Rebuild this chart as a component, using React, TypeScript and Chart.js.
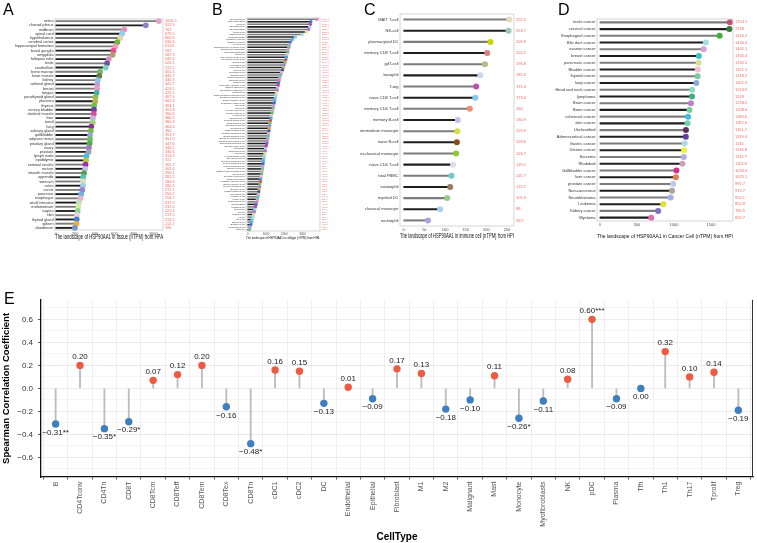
import React, { useEffect, useRef } from "react";
import { Chart, registerables } from "chart.js";

Chart.register(...registerables);

const FAMILY = "'Liberation Sans', Arial, Helvetica, sans-serif";
Chart.defaults.font.family = FAMILY;

// ---------- A: tissue expression (nTPM) ----------
const tissueNames = [
  "retina", "choroid plexus", "midbrain", "spinal cord", "hypothalamus", "cerebral cortex",
  "hippocampal formation", "basal ganglia", "amygdala", "fallopian tube", "testis", "cerebellum",
  "bone marrow", "heart muscle", "kidney", "adrenal gland", "breast", "tongue", "parathyroid gland",
  "placenta", "thymus", "urinary bladder", "skeletal muscle", "liver", "tonsil", "lung",
  "salivary gland", "gallbladder", "adipose tissue", "pituitary gland", "ovary", "prostate",
  "lymph node", "epididymis", "seminal vesicle", "rectum", "smooth muscle", "appendix", "stomach",
  "colon", "cervix", "pancreas", "esophagus", "small intestine", "endometrium", "vagina", "skin",
  "thyroid gland", "spleen", "duodenum",
];
const tissueValues = [
  1056.5, 922.9, 702.0, 679.5, 660.6, 630.6, 611.6, 592.0, 582.9, 542.4, 526.1, 512.5,
  455.5, 445.7, 430.6, 425.7, 424.5, 419.5, 407.9, 405.3, 394.1, 391.8, 390.6, 380.5,
  380.4, 364.4, 360.0, 351.9, 351.5, 347.6, 340.5, 336.6, 314.6, 311.0, 305.7, 301.4,
  290.1, 281.2, 280.6, 280.3, 272.1, 260.7, 254.7, 237.5, 232.6, 225.4, 217.5, 215.5,
  212.2, 196.0,
];
const tissueTicks = [0, 200, 400, 600, 800, 1000];
const tissueColors = [
  "#E8A0CC", "#9080C8", "#E890C0", "#90D0F0", "#E0D8A0", "#70B040", "#F0A0B0", "#F05090",
  "#B0A070", "#D090C0", "#7050A0", "#80D0C0", "#70C070", "#6A7A40", "#80C8F0", "#C0A0D0",
  "#E0A0C0", "#40B0B0", "#90C050", "#C0B050", "#70C050", "#7040A0", "#D050A0", "#C0B0E0",
  "#A0D080", "#9030A0", "#70C040", "#A0A0E0", "#70C060", "#50B050", "#A080C0", "#A0A0C0",
  "#40C0E0", "#C0C040", "#A030A0", "#C0C0F0", "#50A050", "#60C0B0", "#E0E0C0", "#A0D0F0",
  "#A080D0", "#70B0E0", "#F0B0D0", "#C0E0C0", "#D0F0A0", "#90D090", "#F0D0E0", "#4080D0",
  "#F0B040", "#7090D0",
];

// ---------- B: single cell type expression (nTPM) ----------
const cellTypeNames = [
  "Spermatocytes", "Early spermatids", "Oocytes", "Spermatogonia", "Late spermatids",
  "Sertoli cells", "Granulosa cells", "Cytotrophoblasts", "Excitatory neurons",
  "Inhibitory neurons", "Leydig cells", "Oligodendrocyte precursor cells",
  "Extravillous trophoblasts", "Syncytiotrophoblasts", "Astrocytes", "Cone photoreceptor cells",
  "Rod photoreceptor cells", "Bipolar cells", "Horizontal cells", "Muller glia cells",
  "Theca cells", "Peritubular cells", "Schwann cells", "Oligodendrocytes", "Cardiomyocytes",
  "Ductal cells", "Pancreatic endocrine cells", "Basal keratinocytes", "Suprabasal keratinocytes",
  "Melanocytes", "Basal squamous epithelial cells", "Squamous epithelial cells",
  "Basal respiratory cells", "Respiratory ciliated cells", "Club cells", "Ionocytes",
  "Alveolar cells type 1", "Alveolar cells type 2", "Hepatocytes", "Cholangiocytes",
  "Proximal tubular cells", "Distal tubular cells", "Collecting duct cells", "Urothelial cells",
  "Basal prostatic cells", "Prostatic glandular cells", "Breast glandular cells",
  "Breast myoepithelial cells", "Glandular and luminal cells", "Endometrial stromal cells",
  "Smooth muscle cells", "Fibroblasts", "Endothelial cells", "Adipocytes",
  "Hepatic stellate cells", "Skeletal myocytes", "Exocrine glandular cells",
  "Serous glandular cells", "Mucus glandular cells", "Salivary duct cells",
  "Gastric mucus-secreting cells", "Paneth cells", "Proximal enterocytes", "Distal enterocytes",
  "Intestinal endocrine cells", "Enteroendocrine cells", "Thymic epithelial cells",
  "Secretory cells", "Undifferentiated cells", "Microglial cells", "Hofbauer cells",
  "Kupffer cells", "Langerhans cells", "Macrophages", "dendritic cells", "monocytes", "B-cells",
  "Plasma cells", "T-cells", "NK-cells", "granulocytes", "Erythroid cells", "Mesothelial cells",
  "Platelets",
];
const cellTypeValues = [
  3780.4, 3450.2, 3420.7, 3380.1, 3330.6, 3200.3, 2970.8, 2600.5,
  2440.2, 2330.9, 2290.4, 2250.1, 2210.6, 2180.3, 2150.7, 2110.2,
  2080.5, 2040.1, 1990.8, 1950.4, 1900.2, 1850.6, 1800.3, 1760.9,
  1720.4, 1690.2, 1660.7, 1630.1, 1600.5, 1570.3, 1540.8, 1510.2,
  1480.6, 1450.4, 1420.1, 1390.7, 1360.3, 1330.5, 1300.2, 1270.8,
  1240.3, 1220.6, 1200.1, 1180.4, 1160.9, 1140.2, 1120.5, 1100.7,
  1070.3, 1040.8, 1010.2, 980.6, 960.1, 940.5, 910.3, 880.7,
  860.2, 840.4, 820.9, 800.1, 780.6, 760.3, 740.8, 710.2,
  690.5, 670.1, 650.7, 630.2, 600.4, 580.9, 560.3, 530.6,
  500.2, 460.8, 420.5, 390.1, 360.7, 330.4,
  290.6, 250.2, 210.8, 170.3, 130.5, 100.2,
];
const cellTypeTicks = [0, 1000, 2000, 3000];
const cellTypePalette = [
  "#E080C0", "#5070D0", "#C040A0", "#A0D0F0", "#B070D0", "#E0E0A0", "#A0E0E0", "#80C8E8",
  "#60B0E0", "#4070C0", "#C0A0E0", "#70C080", "#E0A0D0", "#60C060", "#F0C0D0", "#50A0E0",
  "#C06050", "#90C060", "#8090E0", "#D0B060", "#4050B0", "#F0B0C0", "#60C0C0", "#B0B0B0",
];

// ---------- C: immune cell expression (nTPM) ----------
const immuneNames = [
  "MAIT T-cell", "NK-cell", "plasmacytoid DC", "memory CD8 T-cell", "gdT-cell", "basophil",
  "T-reg", "naive CD8 T-cell", "memory CD4 T-cell", "memory B-cell", "intermediate monocyte",
  "naive B-cell", "non-classical monocyte", "naive CD4 T-cell", "total PBMC", "eosinophil",
  "myeloid DC", "classical monocyte", "neutrophil",
];
const immuneValues = [
  255.5, 253.7, 209.9, 202.2, 196.8, 185.5, 175.4, 173.4, 160, 130.9, 129.9, 128.6, 126.7,
  119.5, 115.7, 112.5, 105.3, 88, 58.7,
];
const immuneTicks = [0, 50, 100, 150, 200, 250];
const immuneColors = [
  "#E3DCC0", "#9EC3C0", "#C8D400", "#D98080", "#B9B98A", "#C9D8F0", "#C050B0", "#88C8F0",
  "#F09070", "#C0C0E8", "#D8E040", "#8B4A1E", "#90C830", "#E0DAF0", "#70CCC0", "#9A7A60",
  "#90D080", "#A8D0F0", "#B0A0E0",
];

// ---------- D: cancer cell line expression (nTPM) ----------
const cancerNames = [
  "testis cancer", "cervical cancer", "Esophageal cancer", "Bile duct cancer", "ovarian cancer",
  "breast cancer", "pancreatic cancer", "Bladder cancer", "thyroid cancer", "lung cancer",
  "Head and neck cancer", "lymphoma", "Brain cancer", "Bone cancer", "colorectal cancer",
  "skin cancer", "Unclassified", "Adrenocortical cancer", "Gastric cancer", "Uterine cancer",
  "Sarcoma", "Rhabdoid", "Gallbladder cancer", "liver cancer", "prostate cancer",
  "Non-cancerous", "Neuroblastoma", "Leukemia", "Kidney cancer", "Myeloma",
];
const cancerValues = [
  1754.1, 1748, 1616.2, 1430.4, 1401.1, 1335.4, 1332.5, 1321.1, 1318.2, 1301.3, 1244.9, 1243,
  1228.5, 1208.6, 1189.6, 1182.6, 1161.7, 1159.4, 1145, 1136.8, 1132.7, 1113.8, 1033.4, 1025.1,
  987.7, 972.7, 955.1, 855.8, 785.9, 692.7,
];
const cancerTicks = [0, 500, 1000, 1500];
const cancerColors = [
  "#C0507A", "#3A7A3A", "#40B040", "#A0E0E0", "#D8A0D8", "#40C0C0", "#D8E090", "#F0C0D0",
  "#80C8A0", "#90A8D8", "#90D8C0", "#40B080", "#C080C0", "#70D0A0", "#40C0E0", "#70D0B0",
  "#603060", "#6040A0", "#B0D8E0", "#F0F040", "#B0B0E0", "#D0A0C0", "#D03090", "#E08050",
  "#C0C8F0", "#B0A0A0", "#A0B0E8", "#E0E040", "#8070C0", "#E070B0",
];

// ---------- E: correlation with immune cell types ----------
const corrCellTypes = [
  "B", "CD4Tconv", "CD4Tn", "CD8T", "CD8Tcm", "CD8Teff", "CD8Tem", "CD8Tex", "CD8Tn", "cDC1",
  "cDC2", "DC", "Endothelial", "Epithelial", "Fibroblast", "M1", "M2", "Malignant", "Mast",
  "Monocyte", "Myofibroblasts", "NK", "pDC", "Plasma", "Tfh", "Th1", "Th17", "Tprolif", "Treg",
];
const correlations = [
  -0.31, 0.2, -0.35, -0.29, 0.07, 0.12, 0.2, -0.16, -0.48, 0.16, 0.15, -0.13, 0.01, -0.09, 0.17,
  0.13, -0.18, -0.1, 0.11, -0.26, -0.11, 0.08, 0.6, -0.09, 0.0, 0.32, 0.1, 0.14, -0.19,
];
const significance = [
  "**", "", "*", "*", "", "", "", "", "*", "", "", "", "", "", "", "", "", "", "", "*", "", "",
  "***", "", "", "", "", "", "",
];
const corrTicks = [-0.7, -0.6, -0.5, -0.4, -0.3, -0.2, -0.1, 0, 0.1, 0.2, 0.3, 0.4, 0.5, 0.6, 0.7];

const POS_COLOR = "#EE5B43";
const NEG_COLOR = "#3F7FBF";

const sideLabels = {
  id: "sideLabels",
  afterDatasetsDraw(chart: any, _args: any, opts: any) {
    const { ctx, chartArea, scales } = chart;
    ctx.save();
    ctx.strokeStyle = "#C4C4C4";
    ctx.lineWidth = 0.7;
    ctx.strokeRect(chartArea.left, chartArea.top, chartArea.right - chartArea.left, chartArea.bottom - chartArea.top);
    ctx.font = `${opts.size}px ${FAMILY}`;
    ctx.fillStyle = "#F06A62";
    ctx.textAlign = "left";
    ctx.textBaseline = "middle";
    (opts.values as number[]).forEach((v, i) => {
      ctx.fillText(String(v), chartArea.right + opts.gap, scales.y.getPixelForValue(i));
    });
    ctx.restore();
  },
};

type PanelProps = {
  left: number;
  top: number;
  width: number;
  height: number;
  yAxisWidth: number;
  padTop: number;
  padRight: number;
  xAxisHeight: number;
  names: string[];
  values: number[];
  colors: string[];
  ticks: number[];
  xMin: number;
  xMax: number;
  title: string;
  labelSize: number;
  tickSize: number;
  titleSize: number;
  valueSize: number;
  radius: number;
  stem: number;
};

function LollipopPanel(p: PanelProps) {
  const ref = useRef<HTMLCanvasElement>(null);
  useEffect(() => {
    const stemColors = p.values.map((_, i) => (i % 2 === 0 ? "#7C7C7C" : "#1E1E1E"));
    const dotColors = p.values.map((_, i) => p.colors[i % p.colors.length]);
    const chart = new Chart(ref.current as HTMLCanvasElement, {
      type: "bar",
      data: {
        labels: p.names,
        datasets: [
          {
            type: "line",
            indexAxis: "y",
            data: p.values,
            showLine: false,
            pointRadius: p.radius,
            pointBackgroundColor: dotColors,
            pointBorderWidth: 0,
            order: 0,
          } as any,
          {
            type: "bar",
            indexAxis: "y",
            data: p.values,
            backgroundColor: stemColors,
            barThickness: p.stem,
            order: 1,
          } as any,
        ],
      },
      options: {
        indexAxis: "y",
        animation: false,
        responsive: false,
        maintainAspectRatio: false,
        layout: { padding: { top: p.padTop, right: p.padRight, left: 0, bottom: 0 } },
        plugins: {
          legend: { display: false },
          tooltip: { enabled: false },
          sideLabels: { values: p.values, size: p.valueSize, gap: 2 },
        } as any,
        scales: {
          y: {
            type: "category",
            offset: true,
            grid: { display: false, drawTicks: false },
            border: { display: false },
            ticks: { autoSkip: false, font: { size: p.labelSize }, color: "#333", padding: 1.5 },
            afterFit: (s: any) => {
              s.width = p.yAxisWidth;
            },
          },
          x: {
            type: "linear",
            min: p.xMin,
            max: p.xMax,
            grid: { display: false, drawTicks: false },
            border: { display: false },
            afterBuildTicks: (s: any) => {
              s.ticks = p.ticks.map((v) => ({ value: v }));
            },
            ticks: {
              autoSkip: false,
              font: { size: p.tickSize },
              color: "#4D4D4D",
              padding: 1.5,
              callback: (v: any) => String(v),
            },
            title: { display: true, text: p.title, font: { size: p.titleSize }, color: "#111", padding: 0 },
            afterFit: (s: any) => {
              s.height = p.xAxisHeight;
            },
          },
        },
      } as any,
      plugins: [sideLabels],
    });
    return () => chart.destroy();
  }, []);
  return (
    <canvas
      ref={ref}
      width={p.width}
      height={p.height}
      style={{ position: "absolute", left: p.left, top: p.top, width: p.width, height: p.height }}
    />
  );
}

const corrLabels = {
  id: "corrLabels",
  afterDatasetsDraw(chart: any) {
    const { ctx, chartArea, scales } = chart;
    ctx.save();
    ctx.strokeStyle = "#333";
    ctx.lineWidth = 1;
    ctx.beginPath();
    ctx.moveTo(chartArea.right - 0.5, chartArea.top);
    ctx.lineTo(chartArea.right - 0.5, chartArea.bottom);
    ctx.stroke();
    ctx.font = `8px ${FAMILY}`;
    ctx.fillStyle = "#222";
    ctx.textAlign = "center";
    correlations.forEach((r, i) => {
      const px = scales.x.getPixelForValue(i);
      const py = scales.y.getPixelForValue(r);
      const text = (r < 0 ? "\u2212" : "") + Math.abs(r).toFixed(2) + significance[i];
      if (r > 0) {
        ctx.textBaseline = "bottom";
        ctx.fillText(text, px, py - 4.5);
      } else {
        ctx.textBaseline = "top";
        ctx.fillText(text, px, py + 4.5);
      }
    });
    ctx.restore();
  },
};

function CorrelationPanel() {
  const ref = useRef<HTMLCanvasElement>(null);
  useEffect(() => {
    const points = correlations.map((r, i) => ({ x: i, y: r }));
    const isMajor = (v: number) => Math.abs(Math.round(v * 10)) % 2 === 0;
    const chart = new Chart(ref.current as HTMLCanvasElement, {
      type: "bar",
      data: {
        datasets: [
          {
            type: "scatter",
            data: points,
            pointRadius: 3.7,
            pointBackgroundColor: correlations.map((r) => (r > 0 ? POS_COLOR : NEG_COLOR)),
            pointBorderWidth: 0,
            order: 0,
          } as any,
          {
            type: "bar",
            data: points,
            backgroundColor: "#BDBDBD",
            barThickness: 1.2,
            order: 1,
          } as any,
        ],
      },
      options: {
        animation: false,
        responsive: false,
        maintainAspectRatio: false,
        layout: { padding: { top: 6, right: 1, left: 0, bottom: 0 } },
        plugins: { legend: { display: false }, tooltip: { enabled: false } },
        scales: {
          x: {
            type: "linear",
            min: -0.6,
            max: 28.6,
            offset: false,
            grid: { color: "#EBEBEB", lineWidth: 0.8, tickColor: "#333", tickLength: 2.5 },
            border: { color: "#111", width: 1.3 },
            afterBuildTicks: (s: any) => {
              s.ticks = corrCellTypes.map((_, i) => ({ value: i }));
            },
            ticks: {
              autoSkip: false,
              minRotation: 90,
              maxRotation: 90,
              padding: 2,
              font: { size: 7 },
              color: "#555",
              callback: (v: any) => corrCellTypes[v],
            },
            title: { display: true, text: "CellType", font: { size: 10, weight: "bold" }, color: "#000", padding: 0 },
            afterFit: (s: any) => {
              s.height = 66;
            },
          },
          y: {
            type: "linear",
            min: -0.77,
            max: 0.77,
            grid: {
              color: (c: any) => (isMajor(c.tick.value) ? "#E6E6E6" : "#F2F2F2"),
              lineWidth: 0.8,
              tickColor: (c: any) => (isMajor(c.tick.value) ? "#333" : "rgba(0,0,0,0)"),
              tickLength: 3,
            },
            border: { color: "#111", width: 1.3 },
            afterBuildTicks: (s: any) => {
              s.ticks = corrTicks.map((v) => ({ value: v }));
            },
            ticks: {
              autoSkip: false,
              padding: 5,
              font: { size: 8 },
              color: "#333",
              callback: (v: any) => {
                if (!isMajor(v)) return "";
                const t = Math.abs(v).toFixed(1);
                return v < -1e-9 ? "\u2212" + t : t;
              },
            },
            title: {
              display: true,
              text: "Spearman Correlation Coefficient",
              font: { size: 9.5, weight: "bold" },
              color: "#000",
              padding: { top: 1, bottom: 0 },
            },
            afterFit: (s: any) => {
              s.width = 41;
            },
          },
        },
      } as any,
      plugins: [corrLabels],
    });
    return () => chart.destroy();
  }, []);
  return (
    <canvas
      ref={ref}
      width={757}
      height={253}
      style={{ position: "absolute", left: 0, top: 290, width: 757, height: 253 }}
    />
  );
}

const letterStyle = (left: number, top: number): React.CSSProperties => ({
  position: "absolute",
  left,
  top,
  fontFamily: FAMILY,
  fontSize: 16,
  lineHeight: "16px",
  color: "#000",
});

export default function App() {
  return (
    <div
      style={{
        position: "fixed",
        left: 0,
        top: 0,
        width: 757,
        height: 543,
        background: "#fff",
        overflow: "hidden",
      }}
    >
      <LollipopPanel
        left={0} top={0} width={185} height={241}
        yAxisWidth={55} padTop={19} padRight={22} xAxisHeight={11}
        names={tissueNames} values={tissueValues} colors={tissueColors} ticks={tissueTicks}
        xMin={-7} xMax={1099}
        title="The landscape of HSP90AA1 in tissue (nTPM) from HPA"
        labelSize={3.8} tickSize={4} titleSize={6.6} valueSize={3.8} radius={2.9} stem={1.2}
      />
      <LollipopPanel
        left={185} top={0} width={175} height={240}
        yAxisWidth={61} padTop={18} padRight={40} xAxisHeight={9}
        names={cellTypeNames} values={cellTypeValues} colors={cellTypePalette} ticks={cellTypeTicks}
        xMin={-93} xMax={3950}
        title="The landscape of HSP90AA1 in celltype (nTPM) from HPA."
        labelSize={2.2} tickSize={3} titleSize={4.2} valueSize={2.2} radius={1.7} stem={0.9}
      />
      <LollipopPanel
        left={360} top={0} width={180} height={240}
        yAxisWidth={40} padTop={14} padRight={26} xAxisHeight={14}
        names={immuneNames} values={immuneValues} colors={immuneColors} ticks={immuneTicks}
        xMin={-9} xMax={267}
        title="The landscape of HSP90AA1 in immune cell (nTPM) from HPI"
        labelSize={4} tickSize={4} titleSize={6.4} valueSize={4} radius={3} stem={1.4}
      />
      <LollipopPanel
        left={540} top={0} width={217} height={240}
        yAxisWidth={57} padTop={19} padRight={24} xAxisHeight={19}
        names={cancerNames} values={cancerValues} colors={cancerColors} ticks={cancerTicks}
        xMin={-40} xMax={1797}
        title="The landscape of HSP90AA1 in Cancer Cell (nTPM) from HPI"
        labelSize={4} tickSize={4} titleSize={6.2} valueSize={4} radius={3} stem={1.4}
      />

      <CorrelationPanel />

      <div style={letterStyle(3, 2)}>A</div>
      <div style={letterStyle(212, 2)}>B</div>
      <div style={letterStyle(364, 2)}>C</div>
      <div style={letterStyle(558, 2)}>D</div>
      <div style={letterStyle(4, 291)}>E</div>
    </div>
  );
}
